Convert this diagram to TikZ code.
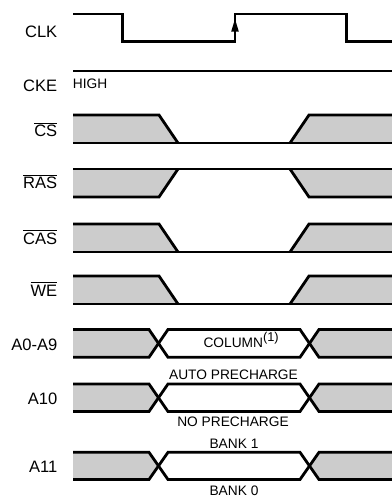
\documentclass[tikz,border=0pt]{standalone}
\usepackage{fontspec}
\setmainfont{Liberation Sans}
\definecolor{busgrey}{HTML}{CCCCCC}
\newcommand\ovl[1]{$\overline{\hbox{#1}}$}
\begin{document}
\begin{tikzpicture}[x=0.75pt,y=-0.75pt,
  sig/.style={line width=2.1pt,line join=miter,line cap=butt},
  lbl/.style={anchor=base east,inner sep=0pt,font=\fontsize{12.4}{14}\selectfont},
  note/.style={anchor=base,inner sep=0pt,font=\fontsize{10.3}{12}\selectfont}]
\useasboundingbox (0,0) rectangle (392,500);
% labels
\node[lbl] (lclk) at (57.5,37.3) {CLK};
\node[lbl] (lcke) at (57.5,91.7) {CKE};
\node[lbl] (lcs) at (57.5,136.7) {\ovl{CS}};
\node[lbl] (lras) at (57.5,188.3) {\ovl{RAS}};
\node[lbl] (lcas) at (57.5,244) {\ovl{CAS}};
\node[lbl] (lwe) at (57.5,296) {\ovl{WE}};
\node[lbl] (la09) at (57.5,350) {A0-A9};
\node[lbl] (la10) at (57.5,404) {A10};
\node[lbl] (la11) at (57.5,472.5) {A11};
% notes
\node[note,anchor=base west] (high) at (72.7,88.3) {HIGH};
\node[note,anchor=base west] (col) at (203.3,347) {COLUMN\raisebox{4pt}{\fontsize{9.6}{11}\selectfont(1)}};
\node[note] (auto) at (233.5,379) {AUTO PRECHARGE};
\node[note] (nopre) at (233,426.7) {NO PRECHARGE};
\node[note] (bank1) at (234,448.8) {BANK 1};
\node[note] (bank0) at (234,495) {BANK 0};
% CLK
\draw[sig] (73,14)--(122.7,14)--(122.7,41.7)--(235,41.7)--(235,14)--(346.7,14)--(346.7,41.7)--(392,41.7);
\fill (235,19)--(231.2,31.5)--(238.8,31.5)--cycle;
% CKE
\draw[sig] (73,71)--(392,71);
% active-low (CS, CAS, WE)
\foreach \t/\b in {115/143,224/252,276/304}{
  \fill[busgrey] (73,\t)--(159,\t)--(178,\b)--(73,\b)--cycle;
  \fill[busgrey] (290,\b)--(309,\t)--(392,\t)--(392,\b)--cycle;
  \draw[sig] (73,\t)--(159,\t)--(178,\b);
  \draw[sig] (73,\b)--(392,\b);
  \draw[sig] (290,\b)--(309,\t)--(392,\t);
}
% RAS (high in the middle)
\fill[busgrey] (73,169)--(178,169)--(159,197)--(73,197)--cycle;
\fill[busgrey] (290,169)--(392,169)--(392,197)--(309,197)--cycle;
\draw[sig] (73,169)--(392,169);
\draw[sig] (73,197)--(159,197)--(178,169);
\draw[sig] (290,169)--(309,197)--(392,197);
% buses
\foreach \t/\b in {329.5/357.3,384/411.5,452.3/479.5}{
  \pgfmathsetmacro\m{(\t+\b)/2}
  \fill[busgrey] (73,\t)--(149,\t)--(158.5,\m)--(149,\b)--(73,\b)--cycle;
  \fill[busgrey] (392,\t)--(319,\t)--(309.5,\m)--(319,\b)--(392,\b)--cycle;
  \draw[sig] (73,\t)--(149,\t)--(168,\b)--(300,\b)--(319,\t)--(392,\t);
  \draw[sig] (73,\b)--(149,\b)--(168,\t)--(300,\t)--(319,\b)--(392,\b);
}
\end{tikzpicture}
\end{document}
